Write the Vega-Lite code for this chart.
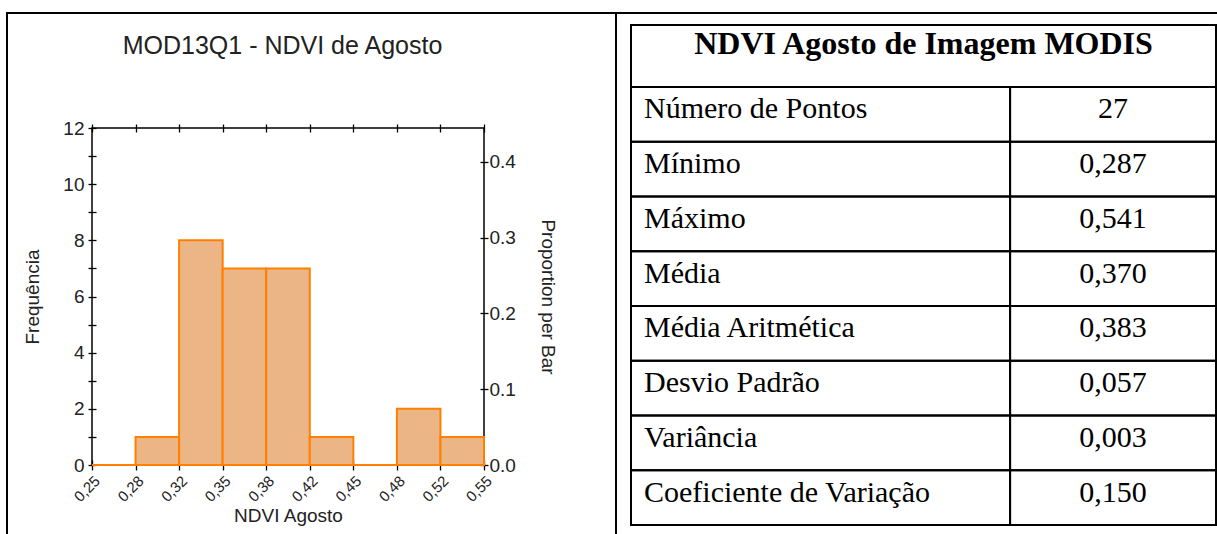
{
  "$schema": "https://vega.github.io/schema/vega-lite/v6.json",
  "width": 1217,
  "height": 534,
  "padding": 0,
  "autosize": {"type": "none"},
  "background": "white",
  "config": {"view": {"stroke": null}, "font": "Liberation Sans"},
  "title": {"text": "MOD13Q1 - NDVI de Agosto", "anchor": "middle", "frame": "group", "offset": 0, "dx": -326, "dy": 71, "baseline": "middle", "fontSize": 25, "fontWeight": "normal", "font": "Liberation Sans", "color": "#222"},
  "datasets": {
    "celulas": [{"celula": "Gráfico"}, {"celula": "Tabela"}],
    "quadro": [{"quadro": "eixos"}],
    "histograma": [
      {"inicio": 0.25, "fim": 0.283333, "frequencia": 0, "proporcao": 0},
      {"inicio": 0.283333, "fim": 0.316667, "frequencia": 1, "proporcao": 0.037},
      {"inicio": 0.316667, "fim": 0.35, "frequencia": 8, "proporcao": 0.296},
      {"inicio": 0.35, "fim": 0.383333, "frequencia": 7, "proporcao": 0.259},
      {"inicio": 0.383333, "fim": 0.416667, "frequencia": 7, "proporcao": 0.259},
      {"inicio": 0.416667, "fim": 0.45, "frequencia": 1, "proporcao": 0.037},
      {"inicio": 0.45, "fim": 0.483333, "frequencia": 0, "proporcao": 0},
      {"inicio": 0.483333, "fim": 0.516667, "frequencia": 2, "proporcao": 0.074},
      {"inicio": 0.516667, "fim": 0.55, "frequencia": 1, "proporcao": 0.037}
    ],
    "cabecalho": [{"titulo": "NDVI Agosto de Imagem MODIS"}],
    "tabela": [
      {"estatistica": "Número de Pontos", "valor": "27"},
      {"estatistica": "Mínimo", "valor": "0,287"},
      {"estatistica": "Máximo", "valor": "0,541"},
      {"estatistica": "Média", "valor": "0,370"},
      {"estatistica": "Média Aritmética", "valor": "0,383"},
      {"estatistica": "Desvio Padrão", "valor": "0,057"},
      {"estatistica": "Variância", "valor": "0,003"},
      {"estatistica": "Coeficiente de Variação", "valor": "0,150"}
    ]
  },
  "resolve": {"scale": {"x": "independent", "y": "independent"}, "axis": {"x": "independent", "y": "independent"}},
  "layer": [
    {
      "data": {"name": "celulas"},
      "mark": {"type": "rect", "fill": "transparent", "stroke": "black", "strokeWidth": 2},
      "encoding": {
        "x": {"field": "celula", "type": "nominal", "scale": {"type": "band", "domain": ["Gráfico", "Tabela"], "range": [7, 1225], "paddingInner": 0, "paddingOuter": 0}, "axis": null},
        "y": {"datum": 0, "type": "quantitative", "scale": {"domain": [0, 1], "range": [13, 620]}, "axis": null},
        "y2": {"datum": 1}
      }
    },
    {
      "data": {"name": "quadro"},
      "mark": {"type": "rect", "fill": "transparent", "stroke": "black", "strokeWidth": 1.5},
      "encoding": {
        "x": {"datum": 0.25, "type": "quantitative", "scale": {"domain": [0.25, 0.55], "range": [92, 484]}, "axis": null},
        "x2": {"datum": 0.55},
        "y": {"datum": 0, "type": "quantitative", "scale": {"domain": [0, 12], "range": [465, 128]},
          "axis": {"orient": "left", "values": [0,1,2,3,4,5,6,7,8,9,10,11,12], "labelExpr": "datum.value % 2 === 0 ? datum.label : ''", "offset": -96, "tickSize": 8, "tickColor": "black", "tickWidth": 1.3, "domain": false, "grid": false, "labelPadding": 4, "labelFontSize": 19, "labelColor": "#222", "labelOverlap": false, "title": "Frequência", "titleFontSize": 19, "titleFontWeight": "normal", "titleColor": "#222", "titleX": -64, "titleBaseline": "middle"}},
        "y2": {"datum": 12}
      }
    },
    {
      "data": {"name": "histograma"},
      "mark": {"type": "bar", "fill": "#ECB585", "stroke": "#FF8000", "strokeWidth": 2},
      "encoding": {
        "x": {"field": "inicio", "type": "quantitative", "scale": {"domain": [0.25, 0.55], "range": [92, 484]},
          "axis": {"orient": "bottom", "values": [0.25, 0.283333, 0.316667, 0.35, 0.383333, 0.416667, 0.45, 0.483333, 0.516667, 0.55], "labelExpr": "replace(format(datum.value, '.2f'), '.', ',')", "offset": -74, "tickSize": 10, "tickColor": "black", "tickWidth": 1.3, "domain": false, "grid": false, "labelAngle": -45, "labelAlign": "right", "labelBaseline": "top", "labelPadding": 3, "labelFontSize": 15, "labelColor": "#222", "labelFlush": false, "labelOverlap": false, "title": "NDVI Agosto", "titleFontSize": 19, "titleFontWeight": "normal", "titleColor": "#222", "titleY": 55, "titleBaseline": "middle"}},
        "x2": {"field": "fim"},
        "y": {"field": "frequencia", "type": "quantitative", "scale": {"domain": [0, 12], "range": [465, 128]}, "axis": null},
        "y2": {"datum": 0}
      }
    },
    {
      "data": {"name": "histograma"},
      "mark": {"type": "bar", "opacity": 0},
      "encoding": {
        "x": {"field": "inicio", "type": "quantitative", "scale": {"domain": [0.25, 0.55], "range": [92, 484]},
          "axis": {"orient": "top", "values": [0.25, 0.283333, 0.316667, 0.35, 0.383333, 0.416667, 0.45, 0.483333, 0.516667, 0.55], "labels": false, "offset": -132, "tickSize": 8, "tickColor": "black", "tickWidth": 1.3, "domain": false, "grid": false, "title": null}},
        "x2": {"field": "fim"},
        "y": {"field": "proporcao", "type": "quantitative", "scale": {"domain": [0, 0.444444], "range": [465, 128]},
          "axis": {"orient": "right", "values": [0, 0.1, 0.2, 0.3, 0.4], "format": ".1f", "offset": -737, "tickSize": 8, "tickColor": "black", "tickWidth": 1.3, "domain": false, "grid": false, "labelPadding": 1, "labelFontSize": 19, "labelColor": "#222", "labelOverlap": false, "title": "Proportion per Bar", "titleFontSize": 19, "titleFontWeight": "normal", "titleColor": "#222", "titleX": 67, "titleBaseline": "middle"}},
        "y2": {"datum": 0}
      }
    },
    {
      "data": {"name": "cabecalho"},
      "encoding": {
        "y": {"field": "titulo", "type": "nominal", "scale": {"type": "band", "range": [25, 87], "paddingInner": 0, "paddingOuter": 0}, "axis": null}
      },
      "layer": [
        {
          "mark": {"type": "rect", "fill": "transparent", "stroke": "black", "strokeWidth": 2},
          "encoding": {
            "x": {"datum": 0, "type": "quantitative", "scale": {"domain": [0, 1], "range": [631, 1216]}, "axis": null},
            "x2": {"datum": 1}
          }
        },
        {
          "mark": {"type": "text", "font": "Liberation Serif", "fontSize": 32, "fontWeight": "bold", "color": "black", "align": "center", "baseline": "alphabetic", "dy": -2},
          "encoding": {
            "x": {"datum": 0.5, "type": "quantitative", "scale": {"domain": [0, 1], "range": [631, 1216]}, "axis": null},
            "text": {"field": "titulo"}
          }
        }
      ]
    },
    {
      "data": {"name": "tabela"},
      "encoding": {
        "y": {"field": "estatistica", "type": "nominal", "sort": null, "scale": {"type": "band", "range": [87, 525], "paddingInner": 0, "paddingOuter": 0}, "axis": null}
      },
      "layer": [
        {
          "mark": {"type": "rect", "fill": "transparent", "stroke": "black", "strokeWidth": 2},
          "encoding": {
            "x": {"datum": 0, "type": "quantitative", "scale": {"domain": [0, 1], "range": [631, 1216]}, "axis": null},
            "x2": {"datum": 0.648}
          }
        },
        {
          "mark": {"type": "rect", "fill": "transparent", "stroke": "black", "strokeWidth": 2},
          "encoding": {
            "x": {"datum": 0.648, "type": "quantitative", "scale": {"domain": [0, 1], "range": [631, 1216]}, "axis": null},
            "x2": {"datum": 1}
          }
        },
        {
          "mark": {"type": "text", "font": "Liberation Serif", "fontSize": 30, "color": "black", "align": "left", "baseline": "alphabetic", "dx": 13, "dy": 4},
          "encoding": {
            "x": {"datum": 0, "type": "quantitative", "scale": {"domain": [0, 1], "range": [631, 1216]}, "axis": null},
            "text": {"field": "estatistica"}
          }
        },
        {
          "mark": {"type": "text", "font": "Liberation Serif", "fontSize": 30, "color": "black", "align": "center", "baseline": "alphabetic", "dy": 4},
          "encoding": {
            "x": {"datum": 0.824, "type": "quantitative", "scale": {"domain": [0, 1], "range": [631, 1216]}, "axis": null},
            "text": {"field": "valor"}
          }
        }
      ]
    }
  ]
}
